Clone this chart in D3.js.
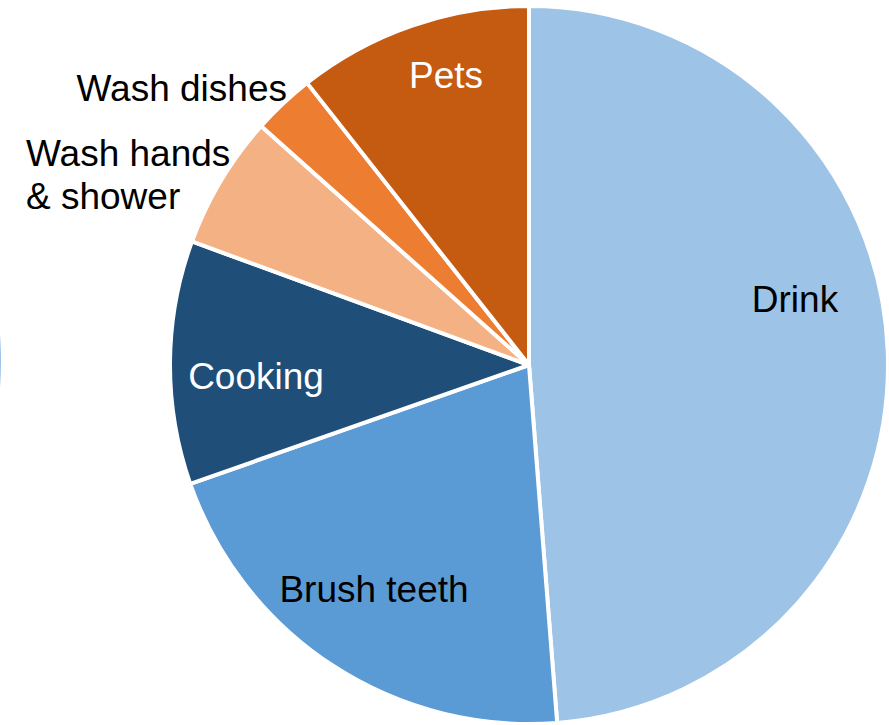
<!DOCTYPE html>
<html>
<head>
<meta charset="utf-8">
<script src="https://cdn.jsdelivr.net/npm/d3@7/dist/d3.min.js"></script>
<style>
  html, body { margin: 0; padding: 0; background: #ffffff; }
  svg { display: block; }
  text { font-family: "Liberation Sans", Arial, sans-serif; }
</style>
</head>
<body>
<svg id="chart" width="889" height="725"></svg>
<script>
// Household water use shares, clockwise from 12 o'clock
const categories = ["Drink", "Brush teeth", "Cooking", "Wash hands & shower", "Wash dishes", "Pets"];
const shares = [48.75, 20.88, 10.96, 6.0, 2.8, 10.61];
const colors = ["#9DC3E6", "#5B9BD5", "#1F4E79", "#F4B183", "#ED7D31", "#C55A11"];

const W = 889, H = 725;
const cx = 529, cy = 365, R = 359;

const svg = d3.select("#chart");
const data = categories.map((c, i) => ({ name: c, value: shares[i], color: colors[i] }));

const pie = d3.pie().sort(null).value(d => d.value);
const arc = d3.arc().innerRadius(0).outerRadius(R);

// Neighbouring pie of the same series, mostly off the left edge
const ghost = svg.append("g").attr("transform", `translate(${-356},${361})`);
ghost.selectAll("path")
  .data(pie(data))
  .join("path")
  .attr("d", arc)
  .attr("fill", d => d.data.color)
  .attr("stroke", "#ffffff")
  .attr("stroke-width", 4);

const g = svg.append("g").attr("transform", `translate(${cx},${cy})`);
g.selectAll("path")
  .data(pie(data))
  .join("path")
  .attr("d", arc)
  .attr("fill", d => d.data.color)
  .attr("stroke", "#ffffff")
  .attr("stroke-width", 4)
  .attr("stroke-linejoin", "round");

// Label placement (relative to pie centre), colour and alignment per slice
const labelLayout = {
  "Drink":               { lines: ["Drink"], x: 266, y: -53, anchor: "middle", fill: "#000000" },
  "Brush teeth":         { lines: ["Brush teeth"], x: -155, y: 237, anchor: "middle", fill: "#000000" },
  "Cooking":             { lines: ["Cooking"], x: -273, y: 24, anchor: "middle", fill: "#ffffff" },
  "Wash hands & shower": { lines: ["Wash hands", "& shower"], x: -503, y: -199, anchor: "start", fill: "#000000" },
  "Wash dishes":         { lines: ["Wash dishes"], x: -242, y: -264, anchor: "end", fill: "#000000" },
  "Pets":                { lines: ["Pets"], x: -83, y: -277, anchor: "middle", fill: "#ffffff" }
};

const labels = g.append("g").attr("class", "labels");
data.forEach(d => {
  const L = labelLayout[d.name];
  const t = labels.append("text")
    .attr("x", L.x)
    .attr("y", L.y)
    .attr("text-anchor", L.anchor)
    .attr("fill", L.fill)
    .attr("font-size", 37);
  L.lines.forEach((line, i) => {
    t.append("tspan").attr("x", L.x).attr("dy", i === 0 ? 0 : 43).text(line);
  });
});
</script>
</body>
</html>
